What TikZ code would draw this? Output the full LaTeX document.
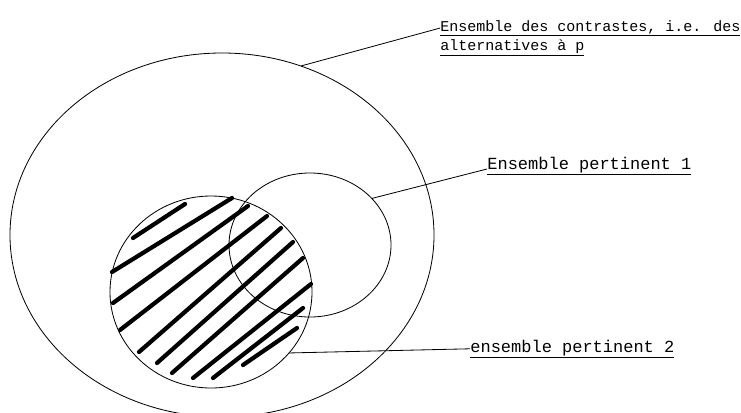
\documentclass[tikz,border=0pt]{standalone}
\usepackage{fontspec}
\newfontfamily\labelfont{Liberation Mono}
\usetikzlibrary{shapes.geometric}
\tikzset{
  every picture/.style={line width=0.7pt},
  set/.style={draw, ellipse, inner sep=0pt, outer sep=0pt},
  lbl/.style={font=\labelfont\fontsize{14.5}{17}\selectfont, inner sep=0pt, anchor=base west},
  lblsmall/.style={lbl, font=\labelfont\fontsize{12.8}{15}\selectfont},
  hatch/.style={line width=3.6pt, line cap=round},
}

\begin{document}
\begin{tikzpicture}[x=0.03cm, y=-0.03cm]
  \useasboundingbox (0,0) rectangle (741,412);
  % the three sets
  \node[set, minimum width=12.72cm, minimum height=10.92cm] (univers) at (222,235) {};
  \node[set, minimum width=4.86cm, minimum height=4.32cm] (pert1) at (310,245) {};
  \node[set, minimum width=6.06cm, minimum height=5.76cm] (pert2) at (211,292) {};
  % hatching of set 2
  \foreach \xa/\ya/\xb/\yb in {133/238/185/204, 112/272/232/198, 113/303/248/206,
      120/330/267/216, 139/352/281/228, 157/363/293/242, 172/373/303/258,
      193/378/311/284, 213/378/303/308, 243/365/297/328}
    \draw[hatch] (\xa,\ya) -- (\xb,\yb);
  % labels
  \node[lblsmall] (lab1a) at (440,31) {\underline{Ensemble des contrastes, i.e. des}};
  \node[lblsmall] (lab1b) at (440,50) {\underline{alternatives à p}};
  \node[lbl] (lab2) at (487,169) {\underline{Ensemble pertinent 1}};
  \node[lbl] (lab3) at (470,352) {\underline{ensemble pertinent 2}};
  \draw (univers.65) -- (lab1a.west);
  \draw (pert1.37) -- (lab2.base west);
  \draw (pert2.-38) -- (lab3.west);
\end{tikzpicture}
\end{document}
